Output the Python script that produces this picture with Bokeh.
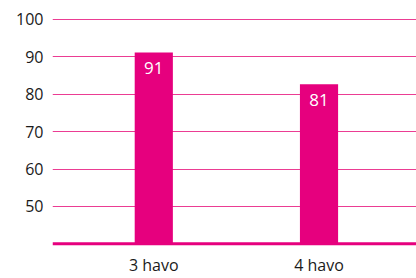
from bokeh.plotting import figure
from bokeh.models import ColumnDataSource, FixedTicker, Range1d, Span
from bokeh.core.properties import value
from bokeh.embed import file_html
from bokeh.resources import INLINE

categories = ["3 havo", "4 havo"]
bar_values = [91.2, 82.7]
bar_labels = ["91", "81"]
y_ticks = [50, 60, 70, 80, 90, 100]
baseline_value = 40

PINK = "#e6007e"
GRID = "#eb3d93"
FONT = "Open Sans"

positions = list(range(len(categories)))
source = ColumnDataSource(data=dict(x=positions, cat=categories, val=bar_values, lab=bar_labels,
                                    base=[baseline_value] * len(categories)))

p = figure(
    width=416, height=278,
    x_range=Range1d(-0.613, 1.590),
    y_range=Range1d(30.72, 102.4),
    output_backend="svg", toolbar_location=None,
    min_border_left=52, min_border_right=0, min_border_top=10, min_border_bottom=0,
)
p.outline_line_color = None
p.background_fill_color = "white"
p.border_fill_color = "white"

p.vbar(x="x", top="val", bottom="base", width=0.231, source=source,
       fill_color=PINK, line_color=None)

# value labels inside bars
p.text(x="x", y="val", text="lab", source=source,
       text_color="white", text_font=value(FONT), text_font_size="17px",
       text_align="center", text_baseline="alphabetic", y_offset=15.5)

# category labels under the baseline
p.text(x="x", y="base", text="cat", source=source,
       text_color="#1a1a1a", text_font=value(FONT), text_font_size="16px",
       text_align="center", text_baseline="alphabetic", y_offset=21)

p.add_layout(Span(location=baseline_value, dimension="width", line_color=PINK, line_width=3))

p.xgrid.grid_line_color = None
p.ygrid.ticker = FixedTicker(ticks=y_ticks)
p.ygrid.grid_line_color = GRID
p.ygrid.grid_line_width = 1

p.xaxis.visible = False

p.yaxis.ticker = FixedTicker(ticks=y_ticks)
p.yaxis.axis_line_color = None
p.yaxis.major_tick_line_color = None
p.yaxis.minor_tick_line_color = None
p.yaxis.major_tick_out = 0
p.yaxis.major_tick_in = 0
p.yaxis.major_label_standoff = 9
p.yaxis.major_label_text_font = FONT
p.yaxis.major_label_text_font_size = "16px"
p.yaxis.major_label_text_color = "#1a1a1a"

open("out.html", "w").write(file_html(p, INLINE))
